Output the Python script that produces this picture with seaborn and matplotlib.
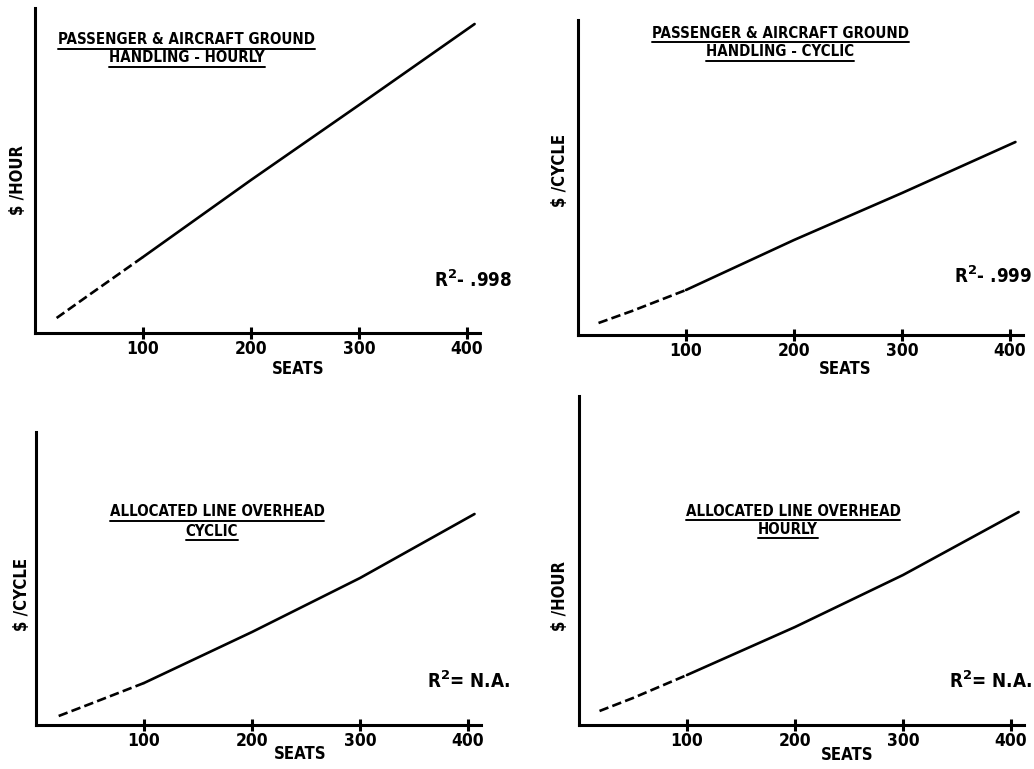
import matplotlib
matplotlib.use("Agg")
import matplotlib.pyplot as plt
from matplotlib import font_manager
from matplotlib.font_manager import FontProperties
from matplotlib.lines import Line2D
import seaborn as sns
import pandas as pd

# ---------------- data (arbitrary cost units) ----------------
seat_ticks = [100, 200, 300, 400]

p1_dash_seats = [20, 50, 100]
p1_dash_cost = [15, 38, 76]
p1_solid_seats = [100, 200, 300, 407]
p1_solid_cost = [76, 153, 228, 309]

p2_dash_seats = [19, 50, 100]
p2_dash_cost = [12, 24, 45]
p2_solid_seats = [100, 200, 300, 405]
p2_solid_cost = [45, 95, 142, 193]

p3_dash_seats = [21, 50, 100]
p3_dash_cost = [9, 21, 42]
p3_solid_seats = [100, 200, 300, 406]
p3_solid_cost = [42, 93, 147, 211]

p4_dash_seats = [19, 50, 100]
p4_dash_cost = [14, 27, 50]
p4_solid_seats = [100, 200, 300, 407]
p4_solid_cost = [50, 98, 150, 213]

titles = [
    ["PASSENGER & AIRCRAFT GROUND", "HANDLING - HOURLY"],
    ["PASSENGER & AIRCRAFT GROUND", "HANDLING - CYCLIC"],
    ["ALLOCATED LINE OVERHEAD", "CYCLIC"],
    ["ALLOCATED LINE OVERHEAD", "HOURLY"],
]
ylabels = ["$ /HOUR", "$ /CYCLE", "$ /CYCLE", "$ /HOUR"]
r2_labels = [".998", ".999", "N.A.", "N.A."]
r2_sep = ["-", "-", "=", "="]
xlabel = "SEATS"

# ---------------- style ----------------
sns.set_theme(style="white")
plt.rcParams["font.family"] = ["DejaVu Sans"]
plt.rcParams["font.weight"] = "bold"
plt.rcParams["mathtext.default"] = "bf"

# look for a condensed bold face
cand = None
prefs = ["LiberationSansNarrow-Bold.ttf", "DejaVuSansCondensed-Bold.ttf",
         "RobotoCondensed-Bold.ttf", "OpenSans_Condensed-Bold.ttf",
         "OpenSansCondensed-Bold.ttf"]
files = [f.fname for f in font_manager.fontManager.ttflist]
for p in prefs:
    for fn in files:
        if fn.endswith(p):
            cand = fn
            break
    if cand:
        break
if cand is None:
    for fn in files:
        low = fn.lower()
        if ("condensed" in low or "narrow" in low) and "bold" in low and "italic" not in low and "semi" not in low and "extra" not in low:
            cand = fn
            break

def fp(size):
    if cand:
        return FontProperties(fname=cand, size=size)
    return FontProperties(family="DejaVu Sans", weight="bold", size=size, stretch="condensed")

W, H = 1034, 769
fig = plt.figure(figsize=(W / 100, H / 100), dpi=100)
fig.patch.set_facecolor("white")

# pixel boxes: left, top, right, bottom
boxes = [(35, 8, 480, 333), (578, 20, 1023, 335), (36, 432, 481, 725), (579, 396, 1024, 725)]
ylims = [325, 315, 293, 329]
title_pos = [((186, 40), (187, 58)), ((780, 33), (780, 52)), ((217, 512), (212, 531)), ((793, 511), (788, 529))]
r2_pos = [(512, 280), (1032, 276), (510, 681), (1032, 681)]
ylab_pos = [(18, 180), (560, 170), (22, 594), (560, 596)]
xlab_pos = [(298, 369), (845, 369), (300, 754), (847, 755)]

panels = [
    (p1_dash_seats, p1_dash_cost, p1_solid_seats, p1_solid_cost),
    (p2_dash_seats, p2_dash_cost, p2_solid_seats, p2_solid_cost),
    (p3_dash_seats, p3_dash_cost, p3_solid_seats, p3_solid_cost),
    (p4_dash_seats, p4_dash_cost, p4_solid_seats, p4_solid_cost),
]

title_texts = []
for i, (ds, dc, ss, sc) in enumerate(panels):
    l, t, r, b = boxes[i]
    ax = fig.add_axes([l / W, 1 - b / H, (r - l) / W, (b - t) / H])
    df = pd.DataFrame({
        "seats": list(ds) + list(ss),
        "cost": list(dc) + list(sc),
        "segment": ["projected"] * len(ds) + ["fitted"] * len(ss),
    })
    sns.lineplot(data=df, x="seats", y="cost", style="segment",
                 dashes={"projected": (3.6, 1.6), "fitted": ""},
                 color="black", linewidth=1.9, estimator=None, sort=True,
                 legend=False, ax=ax)
    ax.set_xlim(0, 412)
    ax.set_ylim(0, ylims[i])
    ax.set_xticks(seat_ticks)
    ax.set_xticklabels([str(v) for v in seat_ticks], fontproperties=fp(12.5))
    ax.set_yticks([])
    ax.tick_params(axis="x", direction="inout", length=8, width=2.2,
                   colors="black", pad=1, bottom=True)
    for side in ["top", "right"]:
        ax.spines[side].set_visible(False)
    for side in ["left", "bottom"]:
        ax.spines[side].set_linewidth(2.2)
        ax.spines[side].set_color("black")
    ax.set_facecolor("none")
    ax.set_xlabel(xlabel, fontproperties=fp(12), color="black")
    ax.set_ylabel(ylabels[i], fontproperties=fp(12), color="black")
    xl, yl = xlab_pos[i]
    ax.xaxis.set_label_coords((xl - l) / (r - l), 1 - (yl - t) / (b - t))
    ax.xaxis.label.set_va("center")
    yx, yy = ylab_pos[i]
    ax.yaxis.set_label_coords((yx - l) / (r - l), 1 - (yy - t) / (b - t))
    ax.yaxis.label.set_va("center")
    for (tx, ty), line in zip(title_pos[i], titles[i]):
        tt = fig.text(tx / W, 1 - ty / H, line, ha="center", va="center",
                      fontproperties=fp(10.8), color="black")
        title_texts.append(tt)
    rx, ry = r2_pos[i]
    fig.text(rx / W, 1 - ry / H, "R$^{2}$" + r2_sep[i] + " " + r2_labels[i],
             ha="right", va="center", fontproperties=fp(13.5), color="black")

fig.canvas.draw()
renderer = fig.canvas.get_renderer()
for tt in title_texts:
    bb = tt.get_window_extent(renderer)
    y = (bb.y0 - 1) / H
    fig.add_artist(Line2D([bb.x0 / W, bb.x1 / W], [y, y], transform=fig.transFigure,
                          color="black", linewidth=1.4))

fig.savefig("out.png", dpi=100, facecolor="white")
